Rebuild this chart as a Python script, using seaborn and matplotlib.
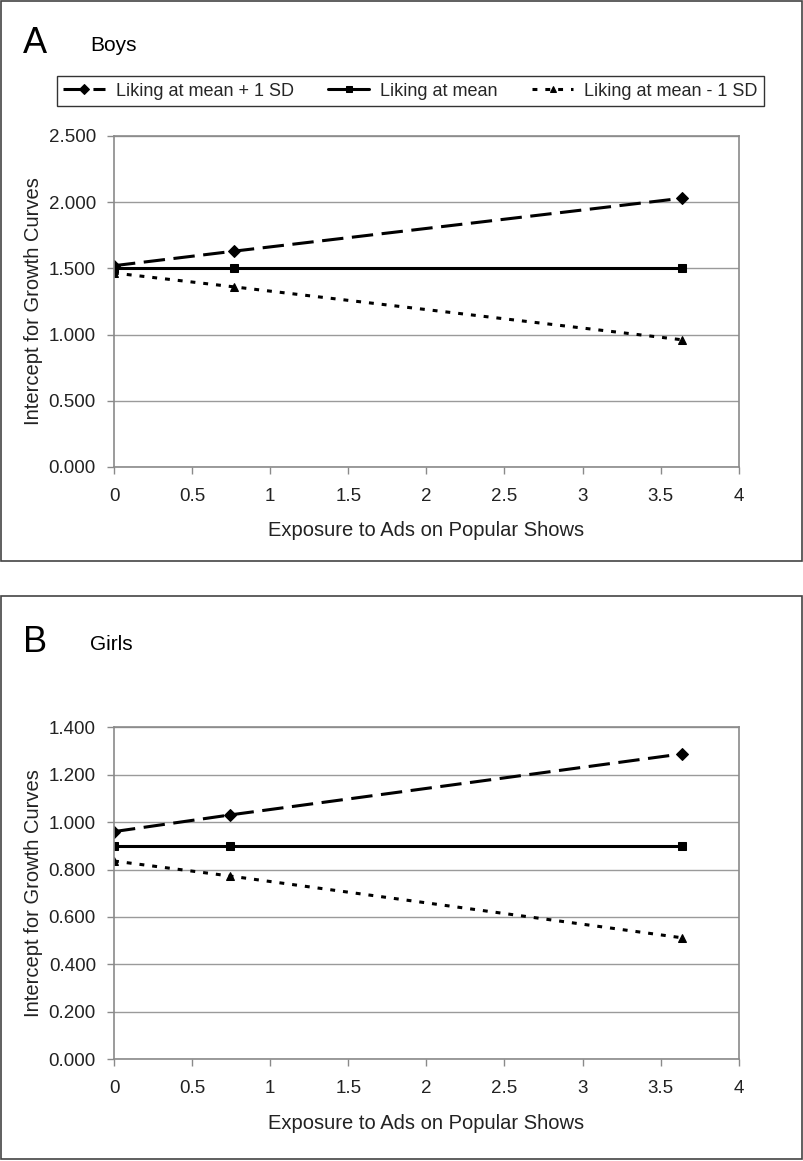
#!/usr/bin/env python

import pandas as pd
import seaborn as sns
from matplotlib import pyplot as plt
from matplotlib.patches import Rectangle
from matplotlib.ticker import FuncFormatter, MultipleLocator

# exposure values (x) and intercepts
boys_x = [0.0, 0.77, 3.64]
boys_high = [1.52, 1.63, 2.03]
boys_mean = [1.50, 1.50, 1.50]
boys_low = [1.465, 1.36, 0.96]

girls_x = [0.0, 0.74, 3.64]
girls_high = [0.96, 1.03, 1.288]
girls_mean = [0.90, 0.90, 0.90]
girls_low = [0.836, 0.773, 0.512]

series_names = ["Liking at mean + 1 SD", "Liking at mean", "Liking at mean - 1 SD"]


def make_df(x, high, mean, low):
    rows = []
    for name, vals in zip(series_names, [high, mean, low]):
        for xi, yi in zip(x, vals):
            rows.append([name, xi, yi])
    return pd.DataFrame(rows, columns=["series", "exposure", "intercept"])


df_boys = make_df(boys_x, boys_high, boys_mean, boys_low)
df_girls = make_df(girls_x, girls_high, girls_mean, girls_low)

sns.set_style("white")
plt.rcParams['font.family'] = ['Liberation Sans', 'DejaVu Sans']

fig = plt.figure(figsize=(8.04, 11.61), dpi=100)

dashes = {series_names[0]: (7, 2.8), series_names[1]: "", series_names[2]: (1.6, 2.6)}
markers = {series_names[0]: "D", series_names[1]: "s", series_names[2]: "^"}

panels = [
    (df_boys, [0.1418, 0.5978, 0.777, 0.2851], 2.5, 0.5, "A", "Boys"),
    (df_girls, [0.1418, 0.0876, 0.777, 0.2860], 1.4, 0.2, "B", "Girls"),
]

grey = "#8a8a8a"
axes = []
for df, rect, ymax, ystep, letter, title in panels:
    ax = fig.add_axes(rect)
    sns.lineplot(data=df, x="exposure", y="intercept", style="series",
                 dashes=dashes, markers=markers, color="black",
                 linewidth=2.2, markersize=6, markeredgecolor="black",
                 ax=ax, legend=(letter == "A"))
    ax.set_xlim(0, 4)
    ax.set_ylim(0, ymax)
    ax.xaxis.set_major_locator(MultipleLocator(0.5))
    ax.yaxis.set_major_locator(MultipleLocator(ystep))
    ax.xaxis.set_major_formatter(FuncFormatter(lambda v, p: "%g" % v))
    ax.yaxis.set_major_formatter(FuncFormatter(lambda v, p: "%.3f" % v))
    ax.grid(axis="y", color="#9a9a9a", linewidth=1)
    ax.set_axisbelow(True)
    for s in ax.spines.values():
        s.set_color(grey)
        s.set_linewidth(1.2)
    ax.tick_params(axis="both", which="major", length=5, width=1, color=grey,
                   direction="out", labelsize=13.5, labelcolor="#222222", pad=8)
    ax.tick_params(axis="x", bottom=True, pad=10)
    ax.tick_params(axis="y", left=True)
    ax.set_xlabel("Exposure to Ads on Popular Shows", fontsize=14.5, labelpad=12, color="#222222")
    ax.set_ylabel("Intercept for Growth Curves", fontsize=14.5, labelpad=4, color="#222222")
    axes.append(ax)

# panel frames, letters and titles
fig.add_artist(Rectangle((0.0015, 1 - 561 / 1161), 0.996, 560 / 1161, transform=fig.transFigure,
                         fill=False, edgecolor="#444444", linewidth=1.2))
fig.add_artist(Rectangle((0.0015, 0.0015), 0.996, 563 / 1161, transform=fig.transFigure,
                         fill=False, edgecolor="#444444", linewidth=1.2))
fig.text(23 / 804, 1 - 53 / 1161, "A", fontsize=26, color="black")
fig.text(90 / 804, 1 - 51 / 1161, "Boys", fontsize=15, color="black")
fig.text(23 / 804, 1 - 652 / 1161, "B", fontsize=26, color="black")
fig.text(90 / 804, 1 - 650 / 1161, "Girls", fontsize=15, color="black")

# legend across the top of panel A
ax0 = axes[0]
handles, labels = ax0.get_legend_handles_labels()
ax0.get_legend().remove()
for h in handles:
    h.set_markersize(5)
leg = fig.legend(handles, labels, ncol=3, loc="center",
                 bbox_to_anchor=(48 / 804, 1 - 107 / 1161, 725 / 804, 32 / 1161),
                 mode="expand", frameon=True, fancybox=False, edgecolor="#333333",
                 framealpha=1, fontsize=13, handlelength=2.3, handletextpad=0.6,
                 borderpad=0.35, columnspacing=1.2)
leg.get_frame().set_linewidth(1.0)

plt.savefig("out.png", dpi=100)
